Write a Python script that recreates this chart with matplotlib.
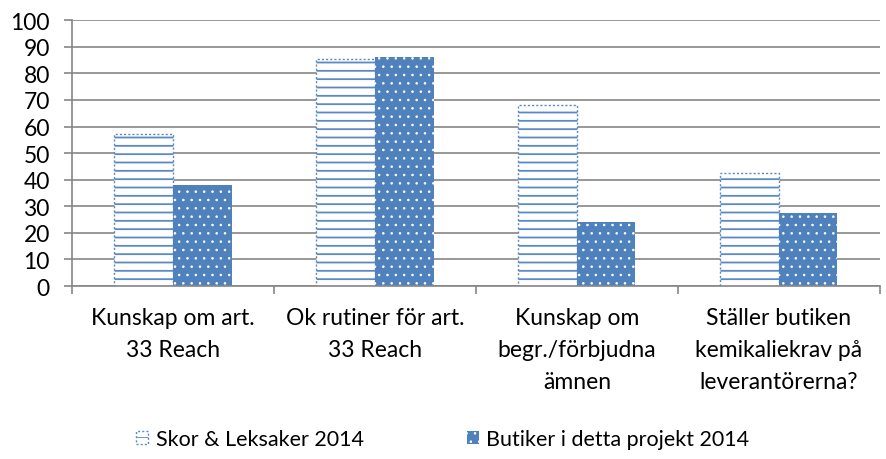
import numpy as np
import matplotlib.pyplot as plt

plt.rcParams['font.family'] = ['Lato', 'DejaVu Sans']

categories = ["Kunskap om art.\n33 Reach", "Ok rutiner för art.\n33 Reach",
              "Kunskap om\nbegr./förbjudna\nämnen", "Ställer butiken\nkemikaliekrav på\nleverantörerna?"]
series_names = ["Skor & Leksaker 2014", "Butiker i detta projekt 2014"]
skor = [57, 85.5, 68, 42.5]
butiker = [38, 86, 24, 27.5]

BLUE = '#4F81BD'
GRID = '#868686'
FS = 16.5

fig = plt.figure(figsize=(8.86, 4.6), dpi=100)
ax = fig.add_axes([0.0813, 0.376, 0.9117, 0.578])

x = np.arange(len(categories))
w = 0.29
plt.rcParams['hatch.linewidth'] = 1.3
ax.bar(x - w / 2, skor, w, color='white', edgecolor='#5B89C4', hatch='--', linewidth=1.0,
       linestyle=(0, (1.5, 1.5)), label=series_names[0], zorder=2)
plt.rcParams['hatch.linewidth'] = 0.6
ax.bar(x + w / 2, butiker, w, color=BLUE, edgecolor='white', hatch='..', linewidth=0,
       label=series_names[1], zorder=2)

ax.set_xlim(-0.5, len(categories) - 0.5)
ax.set_ylim(0, 100)
ax.set_yticks(range(0, 101, 10))
ax.yaxis.grid(True, color=GRID, linewidth=1.2, zorder=0)
ax.set_axisbelow(True)

for s in ['top', 'right']:
    ax.spines[s].set_visible(False)
for s in ['left', 'bottom']:
    ax.spines[s].set_color(GRID)
    ax.spines[s].set_linewidth(1.2)

ax.set_xticks(np.arange(-0.5, len(categories), 1.0))
ax.set_xticklabels([])
ax.set_xticks(x, minor=True)
ax.set_xticklabels(categories, minor=True, fontsize=FS, va='top', linespacing=1.65)
ax.tick_params(axis='x', which='minor', length=0, pad=15)
ax.tick_params(axis='x', which='major', length=6, color=GRID, width=1.2)
ax.tick_params(axis='y', length=6, color=GRID, width=1.2, labelsize=FS, pad=10)

leg = fig.legend(loc='center', bbox_to_anchor=(0.5, 0.043), ncol=2, frameon=False,
                 fontsize=15.5, handlelength=0.55, handleheight=0.55, handletextpad=0.35,
                 columnspacing=4.8)

fig.savefig('out.png', dpi=100)
